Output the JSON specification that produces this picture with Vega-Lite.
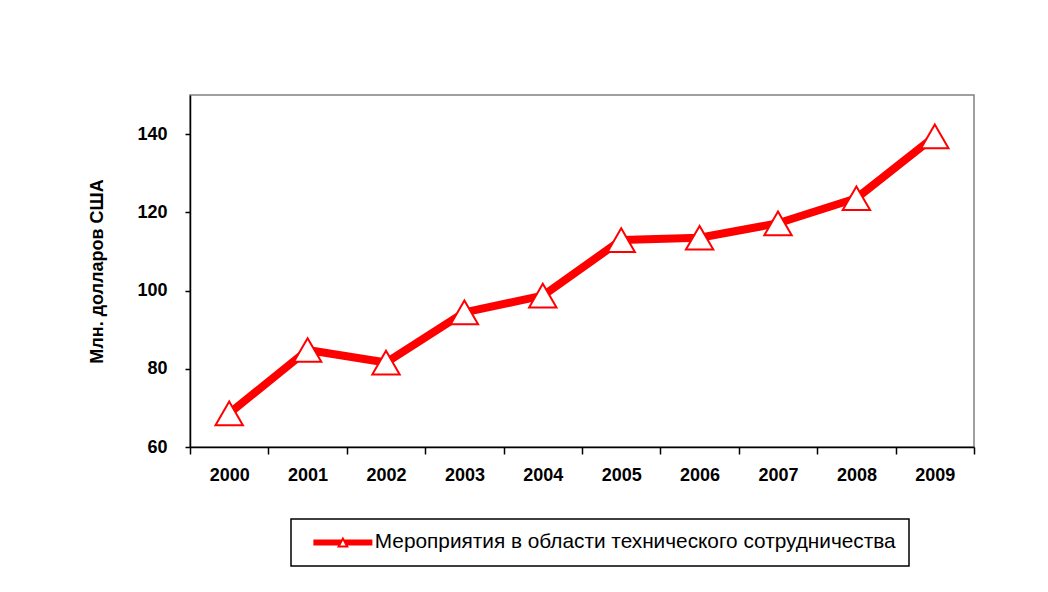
{
  "$schema": "https://vega.github.io/schema/vega-lite/v6.json",
  "width": 784,
  "height": 352,
  "autosize": {"type": "none"},
  "padding": {"left": 190, "top": 95, "right": 74, "bottom": 145},
  "background": "white",
  "config": {
    "font": "Liberation Sans",
    "view": {"stroke": "#808080", "strokeWidth": 1.5}
  },
  "data": {
    "values": [
      {"year": "2000", "value": 68.6, "series": "Мероприятия в области технического сотрудничества"},
      {"year": "2001", "value": 84.8, "series": "Мероприятия в области технического сотрудничества"},
      {"year": "2002", "value": 81.6, "series": "Мероприятия в области технического сотрудничества"},
      {"year": "2003", "value": 94.4, "series": "Мероприятия в области технического сотрудничества"},
      {"year": "2004", "value": 98.7, "series": "Мероприятия в области технического сотрудничества"},
      {"year": "2005", "value": 112.9, "series": "Мероприятия в области технического сотрудничества"},
      {"year": "2006", "value": 113.5, "series": "Мероприятия в области технического сотрудничества"},
      {"year": "2007", "value": 117.2, "series": "Мероприятия в области технического сотрудничества"},
      {"year": "2008", "value": 123.6, "series": "Мероприятия в области технического сотрудничества"},
      {"year": "2009", "value": 139.4, "series": "Мероприятия в области технического сотрудничества"}
    ]
  },
  "encoding": {
    "x": {
      "field": "year",
      "type": "ordinal",
      "scale": {"type": "band", "paddingInner": 0, "paddingOuter": 0},
      "axis": {
        "title": null,
        "labelAngle": 0,
        "labelFontSize": 18,
        "labelFontWeight": "bold",
        "labelColor": "black",
        "labelPadding": 12,
        "tickBand": "extent",
        "tickSize": 7,
        "tickColor": "black",
        "tickWidth": 1.5,
        "domainColor": "black",
        "domainWidth": 1.5
      }
    },
    "y": {
      "field": "value",
      "type": "quantitative",
      "scale": {"domain": [60, 150], "nice": false, "zero": false},
      "axis": {
        "title": "Млн. долларов США",
        "titleFontSize": 18,
        "titleFontWeight": "bold",
        "titleColor": "black",
        "titlePadding": 30,
        "values": [60, 80, 100, 120, 140],
        "grid": false,
        "labelFontSize": 18,
        "labelFontWeight": "bold",
        "labelColor": "black",
        "labelPadding": 18,
        "tickSize": 5,
        "tickColor": "black",
        "tickWidth": 1.5,
        "domainColor": "black",
        "domainWidth": 1.5
      }
    }
  },
  "layer": [
    {
      "mark": {"type": "line", "strokeWidth": 8, "strokeJoin": "round", "strokeCap": "butt"},
      "encoding": {
        "color": {
          "field": "series",
          "type": "nominal",
          "scale": {"range": ["#ff0000"]},
          "legend": {
            "title": null,
            "orient": "none",
            "legendX": 101,
            "legendY": 424,
            "direction": "vertical",
            "padding": 13,
            "strokeColor": "black",
            "fillColor": "white",
            "labelFontSize": 20.8,
            "labelColor": "black",
            "labelLimit": 800,
            "labelOffset": 21.5,
            "symbolOffset": 28.5,
            "symbolType": "M-2.95,-0.3L0,-0.3L0,-0.18L-0.262,0.3L-2.95,0.3Z M2.95,-0.3L2.95,0.3L0.262,0.3L0,-0.18L0,-0.3Z M0,-0.6L0.6,0.5L-0.6,0.5Z M0,-0.18L-0.262,0.3L0.262,0.3Z",
            "symbolSize": 400,
            "encode": {
              "legend": {
                "update": {
                  "strokeWidth": {"value": 1.5}
                }
              },
              "symbols": {
                "update": {
                  "fill": {"value": "#ff0000"},
                  "fillOpacity": {"value": 1},
                  "strokeWidth": {"value": 0},
                  "opacity": {"value": 1}
                }
              }
            }
          }
        }
      }
    },
    {
      "mark": {
        "type": "point",
        "shape": "triangle-up",
        "size": 750,
        "filled": true,
        "fill": "white",
        "fillOpacity": 1,
        "opacity": 1,
        "stroke": "#ff0000",
        "strokeWidth": 2
      }
    }
  ]
}
